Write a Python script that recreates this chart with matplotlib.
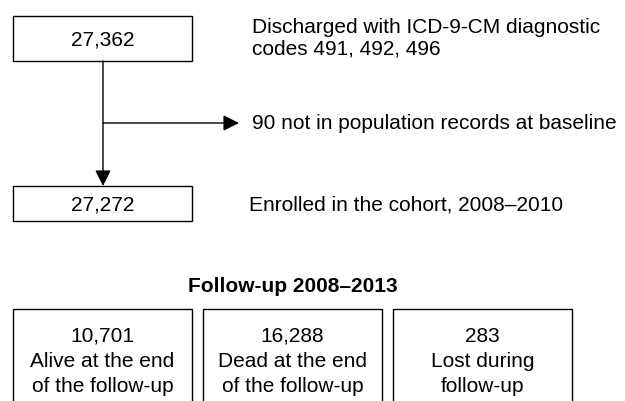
import matplotlib
matplotlib.use('Agg')
from matplotlib import pyplot as plt
from matplotlib.patches import Rectangle

plt.rcParams['font.family'] = ['Liberation Sans', 'DejaVu Sans']

# flow numbers and labels
top_counts = ['27,362', '27,272']
top_notes = ['Discharged with ICD-9-CM diagnostic\ncodes 491, 492, 496',
             'Enrolled in the cohort, 2008\u20132010']
excluded_note = '90 not in population records at baseline'
followup_title = 'Follow-up 2008\u20132013'
outcome_counts = ['10,701', '16,288', '283']
outcome_labels = ['Alive at the end\nof the follow-up',
                  'Dead at the end\nof the follow-up',
                  'Lost during\nfollow-up']

FS = 15
fig = plt.figure(figsize=(6.25, 4.02), dpi=100)
ax = fig.add_axes([0, 0, 1, 1])
ax.set_xlim(0, 625)
ax.set_ylim(402, 0)
ax.axis('off')


def lines(x, y0, txt, step, ha='left', **kw):
    # one text per line, placed by baseline
    for i, ln in enumerate(txt.split('\n')):
        ax.text(x, y0 + i * step, ln, ha=ha, va='baseline', fontsize=FS, **kw)


# top boxes
box_y = [17, 187]
box_h = [45, 35]
cnt_base = [46, 210.5]
note_x = [252, 249]
note_base = [33, 210.5]
for cnt, note, y, h, cb, nx, nb in zip(top_counts, top_notes, box_y, box_h,
                                       cnt_base, note_x, note_base):
    ax.add_patch(Rectangle((13, y), 179, h, fill=False, lw=1, ec='black'))
    ax.text(102.5, cb, cnt, ha='center', va='baseline', fontsize=FS)
    lines(nx, nb, note, 21.5)

arrow = dict(arrowstyle='-|>,head_length=0.8,head_width=0.4', lw=1,
             color='black', mutation_scale=12, shrinkA=0, shrinkB=0)
# main arrow down
ax.annotate('', xy=(103, 187), xytext=(103, 62), arrowprops=arrow)
# side arrow
ax.annotate('', xy=(239, 124), xytext=(103, 124), arrowprops=arrow)
ax.text(252, 129.5, excluded_note, ha='left', va='baseline', fontsize=FS)

# follow-up
ax.text(292.5, 292, followup_title, ha='center', va='baseline', fontsize=FS,
        fontweight='bold')
box_x = [13, 203, 393]
for cnt, lab, x in zip(outcome_counts, outcome_labels, box_x):
    ax.add_patch(Rectangle((x, 310), 179, 110, fill=False, lw=1, ec='black'))
    lines(x + 89.5, 342, cnt + '\n' + lab, 25, ha='center')

fig.savefig('out.png', dpi=100)
